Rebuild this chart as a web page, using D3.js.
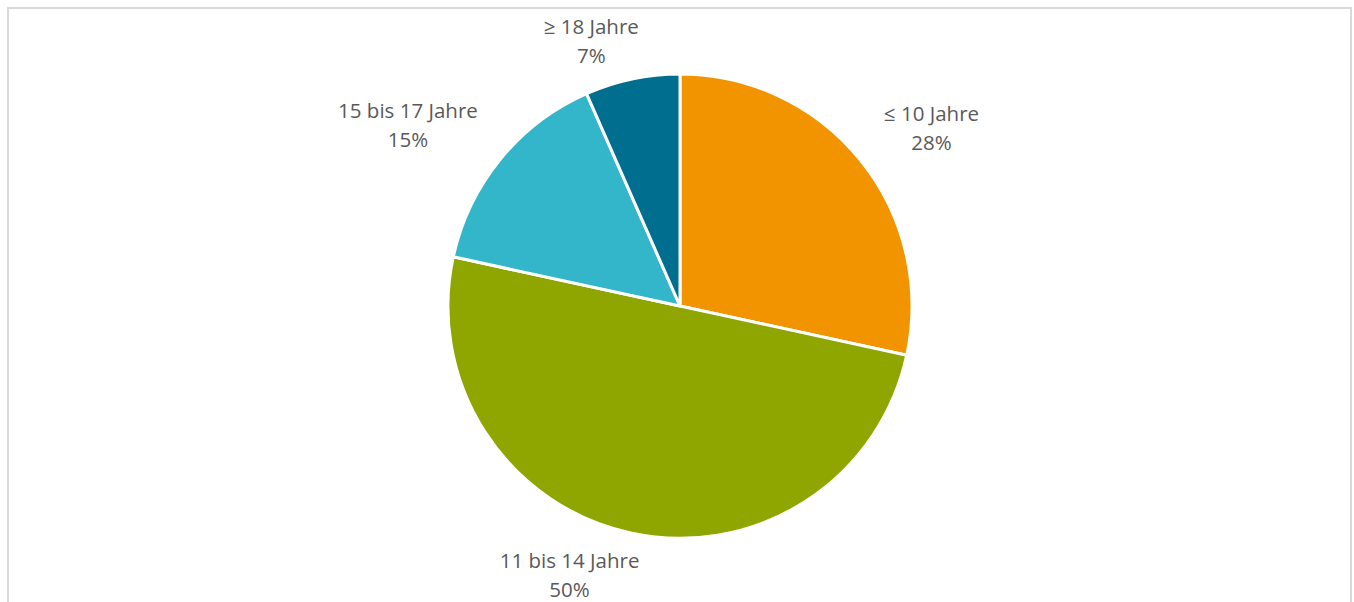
<!DOCTYPE html>
<html>
<head>
<meta charset="utf-8">
<script src="https://cdn.jsdelivr.net/npm/d3@7"></script>
<style>
  html, body { margin: 0; padding: 0; background: #ffffff; }
  svg { display: block; }
</style>
</head>
<body>
<svg id="chart" width="1354" height="602"></svg>
<script>
// ---- data ----
const categories = ["≤ 10 Jahre", "11 bis 14 Jahre", "15 bis 17 Jahre", "≥ 18 Jahre"];
const shares = [28.4, 50.0, 15.0, 6.6];
const sliceColors = ["#f29400", "#8fa500", "#33b6c9", "#006f8f"];

// ---- layout ----
const W = 1354, H = 602;
const cx = 680, cy = 306, R = 232;
// manual label nudges (like moved data labels in the original), in px
const labelNudge = [[24, 6], [-52, 0], [-46, 4], [-32, 5]];
const svg = d3.select("#chart");

// chart frame
svg.append("rect")
  .attr("x", 8).attr("y", 8)
  .attr("width", 1343).attr("height", 620)
  .attr("fill", "#ffffff")
  .attr("stroke", "#d9d9d9").attr("stroke-width", 2);

const data = categories.map((c, i) => ({ cat: c, value: shares[i], color: sliceColors[i], i }));
const total = d3.sum(shares);

const pie = d3.pie().value(d => d.value).sort(null);
const arc = d3.arc().innerRadius(0).outerRadius(R);
const arcs = pie(data);

const g = svg.append("g").attr("transform", `translate(${cx},${cy})`);

g.selectAll("path.slice")
  .data(arcs)
  .join("path")
  .attr("class", "slice")
  .attr("d", arc)
  .attr("fill", d => d.data.color)
  .attr("stroke", "#ffffff")
  .attr("stroke-width", 3)
  .attr("stroke-linejoin", "round");

// labels: outside end, box touching a ray from the slice's mid-angle
const fontFamily = "'Open Sans', Carlito, Calibri, sans-serif";
const fontSize = 20.5;
const lineH = 29;
const gap = 14;

arcs.forEach(d => {
  const mid = (d.startAngle + d.endAngle) / 2;
  const sx = Math.sin(mid), sy = -Math.cos(mid);
  const pct = Math.round(d.data.value / total * 100) + "%";
  const t = g.append("text")
    .attr("font-family", fontFamily)
    .attr("font-size", fontSize)
    .attr("fill", "#595959")
    .attr("text-anchor", "middle");
  t.append("tspan").attr("x", 0).attr("dy", 0).text(d.data.cat);
  t.append("tspan").attr("x", 0).attr("dy", lineH).text(pct);
  const bb = t.node().getBBox();
  const halfW = bb.width / 2 + 4, halfH = lineH;
  const tt = Math.min(halfW / Math.max(Math.abs(sx), 1e-6), halfH / Math.max(Math.abs(sy), 1e-6));
  const nd = labelNudge[d.data.i];
  const px = (R + gap) * sx + tt * sx + nd[0];
  const py = (R + gap) * sy + tt * sy + nd[1];
  const cap = fontSize * 0.714;
  t.attr("transform", `translate(${px},${py - lineH / 2 + cap / 2})`);
});
</script>
</body>
</html>
